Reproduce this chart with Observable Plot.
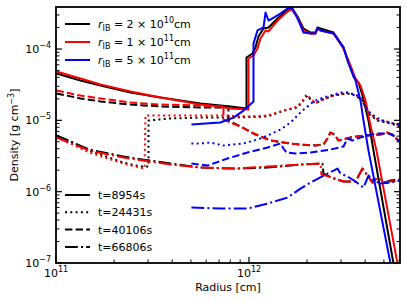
<!DOCTYPE html>
<html><head><meta charset="utf-8">
<script src="https://cdn.jsdelivr.net/npm/d3@7"></script>
<script src="https://cdn.jsdelivr.net/npm/@observablehq/plot@0.6"></script>
<style>
html,body{margin:0;padding:0;background:#fff;}
#chart{width:407px;height:301px;}
svg{font-family:"DejaVu Sans",sans-serif;}
</style></head><body><div id="chart"></div>
<script>
// radius in units of 1e11 cm, density in g cm^-3
const rIBLabels = [["2","10"],["1","11"],["5","11"]];
const timeLabels = ["t=8954s","t=24431s","t=40106s","t=66806s"];
const xTickValues = [1e11, 1e12];
const yTickValues = [1e-7, 1e-6, 1e-5, 1e-4];

const blackT1 = [[1.00,4.60e-5],[1.331,3.67e-5],[1.690,3.13e-5],[2.417,2.49e-5],[3.459,2.12e-5],[5.574,1.75e-5],[7.97,1.59e-5],[9.65,1.49e-5],[9.65,7.73e-5],[10.36,8.79e-5],[10.74,1.07e-4],[11.13,1.52e-4],[11.82,1.97e-4],[12.55,2.04e-4],[13.97,2.72e-4],[15.74,3.64e-4],[16.51,3.88e-4],[17.73,2.90e-4],[19.05,1.97e-4],[20.71,1.73e-4],[21.98,1.73e-4],[22.51,2.04e-4],[23.33,1.97e-4],[27.24,1.73e-4],[30.69,1.07e-4],[32.58,6.58e-5],[34.59,4.18e-5],[36.72,3.44e-5],[38.51,2.26e-5],[41.36,1.01e-5],[43.91,3.83e-6],[55.74,1.0e-7],[58.46,5.3e-8]];
const redT1 = [[1.00,4.91e-5],[1.331,3.92e-5],[1.690,3.23e-5],[2.417,2.58e-5],[3.459,2.12e-5],[5.574,1.69e-5],[7.07,1.59e-5],[7.97,1.49e-5],[9.88,1.44e-5],[9.88,7.48e-5],[10.49,8.24e-5],[11.00,1.03e-4],[11.40,1.43e-4],[12.11,1.85e-4],[12.55,1.79e-4],[13.97,2.55e-4],[15.74,3.41e-4],[16.51,3.64e-4],[17.73,2.81e-4],[19.05,1.85e-4],[20.71,1.68e-4],[21.98,1.68e-4],[22.51,1.97e-4],[23.33,1.85e-4],[27.24,1.68e-4],[30.69,1.03e-4],[33.37,5.97e-5],[35.43,3.92e-5],[37.59,3.13e-5],[39.90,1.93e-5],[42.36,8.59e-6],[45.5,3.83e-6],[58.46,1.0e-7],[61.2,5.3e-8]];
const blueT1 = [[5.0,8.87e-6],[5.916,9.16e-6],[7.07,9.46e-6],[8.26,1.11e-5],[9.31,1.39e-5],[10.49,1.87e-5],[10.49,1.21e-4],[11.00,1.85e-4],[11.82,2.04e-4],[12.11,3.30e-4],[12.55,2.55e-4],[13.97,3.00e-4],[15.74,3.76e-4],[16.70,3.76e-4],[17.95,2.55e-4],[19.05,1.73e-4],[20.71,1.68e-4],[21.98,1.68e-4],[22.51,1.97e-4],[23.33,1.85e-4],[27.24,1.68e-4],[30.69,1.07e-4],[32.58,6.37e-5],[35.43,3.67e-5],[37.59,1.93e-5],[38.97,1.01e-5],[41.36,3.83e-6],[53.78,1.0e-7],[56.4,5.3e-8]];

const blackT2 = [[1.00,6.22e-6],[1.18,5.13e-6],[1.482,3.83e-6],[2.223,2.60e-6],[2.724,2.29e-6],[2.997,2.29e-6],[2.997,1.01e-5],[3.897,1.08e-5],[5.574,1.11e-5],[7.97,1.11e-5],[12.40,1.15e-5],[15.01,1.39e-5],[17.73,1.54e-5],[19.05,1.93e-5],[19.98,2.26e-5],[20.71,1.99e-5],[21.98,1.75e-5],[23.33,1.93e-5],[27.24,2.26e-5],[32.19,2.42e-5],[35.43,2.26e-5],[38.51,1.93e-5],[41.36,1.27e-5],[46.05,1.01e-5],[53.78,9.16e-6],[60.6,8.32e-6]];
const redT2 = [[1.00,5.83e-6],[1.18,4.81e-6],[1.482,3.59e-6],[2.223,2.52e-6],[2.857,2.14e-6],[2.891,1.19e-5],[3.897,1.19e-5],[5.574,1.19e-5],[7.07,1.19e-5],[10.12,1.15e-5],[12.40,1.19e-5],[15.01,1.39e-5],[17.73,1.59e-5],[19.05,1.99e-5],[19.74,2.34e-5],[20.71,2.06e-5],[21.98,1.75e-5],[23.33,1.93e-5],[27.24,2.26e-5],[32.19,2.49e-5],[35.43,2.34e-5],[38.51,1.99e-5],[41.36,1.31e-5],[46.05,1.04e-5],[53.78,9.46e-6],[60.6,8.59e-6]];
const blueT2 = [[5.0,4.81e-6],[5.574,4.81e-6],[6.28,4.97e-6],[7.33,4.51e-6],[9.31,4.81e-6],[11.40,5.65e-6],[12.40,6.22e-6],[14.48,7.55e-6],[16.31,9.46e-6],[18.37,1.31e-5],[21.46,1.87e-5],[24.18,2.12e-5],[29.62,2.49e-5],[32.19,2.49e-5],[36.28,2.26e-5],[38.97,1.75e-5],[42.36,1.27e-5],[47.73,1.04e-5],[55.74,9.16e-6],[60.6,8.59e-6]];

const blackT3 = [[1.00,2.42e-5],[1.331,2.06e-5],[1.690,1.87e-5],[2.417,1.69e-5],[3.459,1.59e-5],[5.574,1.54e-5],[7.78,1.54e-5],[7.78,1.01e-5],[8.98,8.32e-6],[10.49,6.64e-6],[12.85,5.30e-6],[16.31,4.81e-6],[18.37,4.66e-6],[21.98,4.51e-6],[24.18,4.66e-6],[25.36,5.65e-6],[26.28,6.85e-6],[27.57,6.43e-6],[28.92,5.30e-6],[33.37,5.83e-6],[38.97,6.22e-6],[47.73,6.43e-6],[51.88,6.85e-6],[54.4,6.43e-6],[59.16,5.30e-6],[62.0,4.81e-6]];
const redT3 = [[1.00,2.66e-5],[1.331,2.26e-5],[1.690,2.06e-5],[2.417,1.81e-5],[3.459,1.69e-5],[5.574,1.64e-5],[7.33,1.59e-5],[7.33,1.04e-5],[8.98,8.32e-6],[10.49,6.64e-6],[12.85,5.30e-6],[16.31,4.81e-6],[18.37,4.66e-6],[21.98,4.51e-6],[24.18,4.66e-6],[25.36,5.65e-6],[26.28,6.85e-6],[27.57,6.43e-6],[28.92,5.30e-6],[33.37,5.83e-6],[38.97,6.22e-6],[47.73,6.43e-6],[51.88,6.85e-6],[54.4,6.43e-6],[59.16,5.30e-6],[62.0,4.81e-6]];
const blueT3 = [[5.0,2.52e-6],[6.06,2.36e-6],[7.69,2.96e-6],[9.76,3.59e-6],[12.40,4.23e-6],[14.48,4.81e-6],[15.01,4.09e-6],[15.55,3.59e-6],[17.31,3.48e-6],[20.71,3.59e-6],[26.28,3.96e-6],[30.69,4.36e-6],[32.19,5.65e-6],[34.18,5.30e-6],[37.59,5.83e-6],[44.96,6.64e-6],[50.67,6.64e-6],[55.08,6.43e-6],[59.16,5.30e-6],[62.0,4.81e-6]];

const blackT4 = [[1.00,6.22e-6],[1.482,3.96e-6],[2.223,3.16e-6],[2.824,2.86e-6],[3.897,2.52e-6],[5.574,2.21e-6],[8.26,2.14e-6],[12.40,2.21e-6],[18.37,2.44e-6],[23.89,2.52e-6],[24.18,1.82e-6],[27.24,1.55e-6],[30.69,1.41e-6],[35.43,1.41e-6],[38.51,2.14e-6],[40.87,1.71e-6],[43.39,1.36e-6],[46.05,1.60e-6],[49.47,1.36e-6],[53.78,1.46e-6],[60.6,1.50e-6]];
const redT4 = [[1.00,5.83e-6],[1.482,3.83e-6],[2.223,3.06e-6],[2.824,2.77e-6],[3.897,2.44e-6],[5.574,2.21e-6],[8.26,2.14e-6],[12.40,2.29e-6],[18.37,2.44e-6],[23.33,2.52e-6],[23.61,1.77e-6],[27.24,1.60e-6],[30.69,1.41e-6],[35.43,1.41e-6],[38.51,2.14e-6],[40.87,1.71e-6],[43.39,1.36e-6],[46.05,1.60e-6],[49.47,1.36e-6],[53.78,1.41e-6],[60.6,1.46e-6]];
const blueT4 = [[5.0,6.08e-7],[7.07,5.89e-7],[9.76,5.89e-7],[12.40,6.92e-7],[15.74,8.39e-7],[18.37,1.12e-6],[20.71,1.36e-6],[25.36,1.82e-6],[28.58,2.14e-6],[29.62,1.82e-6],[32.19,1.66e-6],[35.43,1.41e-6],[38.97,1.16e-6],[41.36,1.71e-6],[43.91,1.46e-6],[47.73,1.32e-6],[53.78,1.36e-6],[60.6,1.46e-6]];

const seriesTable = [
  [blackT1, blackT2, blackT3, blackT4],
  [redT1, redT2, redT3, redT4],
  [blueT1, blueT2, blueT3, blueT4]
];

const colors = ["#000000", "#ff0000", "#0000ff"];
const dashes = [undefined, "2,3.3", "7.4,3.2", "12.8,3.2,2,3.2"];
const LW = 2;

const marks = [];
seriesTable.forEach((row, ci) => {
  row.forEach((pts, ti) => {
    const data = pts.map(([r, rho]) => ({r: r * 1e11, rho}));
    marks.push(Plot.line(data, {
      x: "r", y: "rho", stroke: colors[ci], strokeWidth: LW,
      strokeDasharray: dashes[ti], strokeLinecap: "butt", strokeLinejoin: "round",
      curve: "linear", clip: true
    }));
  });
});

const chart = Plot.plot({
  width: 407, height: 301,
  marginLeft: 56, marginRight: 7, marginTop: 7, marginBottom: 38,
  x: {type: "log", domain: [1e11, 6.06e12], axis: null},
  y: {type: "log", domain: [1e-7, 3.88e-4], axis: null},
  style: {background: "white", fontFamily: "DejaVu Sans, sans-serif"},
  marks
});
document.getElementById("chart").appendChild(chart);

const X = chart.scale("x"), Y = chart.scale("y");
const svg = d3.select(chart);
const x0 = X.range[0], x1 = X.range[1];
const yB = Y.range[0], yT = Y.range[1];
const g = svg.append("g").attr("text-anchor", "start");

// ticks
const majorLen = 6, minorLen = 3.5;
const yMinor = [];
for (let e = -7; e <= -4; e++) for (let k = 2; k <= 9; k++) { const v = k * Math.pow(10, e); if (v <= 3.88e-4) yMinor.push(v); }
const xMinor = [];
for (let e = 11; e <= 12; e++) for (let k = 2; k <= 9; k++) { const v = k * Math.pow(10, e); if (v <= 6.06e12) xMinor.push(v); }
function tick(xa, ya, xb, yb, w) {
  g.append("line").attr("x1", xa).attr("y1", ya).attr("x2", xb).attr("y2", yb)
    .attr("stroke", "black").attr("stroke-width", w);
}
yTickValues.forEach(v => { const p = Y.apply(v); tick(x0, p, x0 + majorLen, p, 1.2); tick(x1, p, x1 - majorLen, p, 1.2); });
yMinor.forEach(v => { const p = Y.apply(v); tick(x0, p, x0 + minorLen, p, 1); tick(x1, p, x1 - minorLen, p, 1); });
xTickValues.forEach(v => { const p = X.apply(v); tick(p, yB, p, yB - majorLen, 1.2); });
xMinor.forEach(v => { const p = X.apply(v); tick(p, yB, p, yB - minorLen, 1); });

// frame
g.append("rect").attr("x", x0).attr("y", yT).attr("width", x1 - x0).attr("height", yB - yT)
  .attr("fill", "none").attr("stroke", "black").attr("stroke-width", 1.8);

const FS = 11, SFS = 8;
// y tick labels
yTickValues.forEach(v => {
  const e = Math.round(Math.log10(v));
  const t = g.append("text").attr("x", x0 - 5).attr("y", Y.apply(v) + 4)
    .attr("text-anchor", "end").attr("font-size", FS).attr("fill", "black");
  t.append("tspan").text("10");
  t.append("tspan").attr("dy", -5).attr("font-size", SFS).text("\u2212" + Math.abs(e));
});
// x tick labels
xTickValues.forEach(v => {
  const e = Math.round(Math.log10(v));
  const t = g.append("text").attr("x", X.apply(v)).attr("y", yB + 14)
    .attr("text-anchor", "middle").attr("font-size", FS).attr("fill", "black");
  t.append("tspan").text("10");
  t.append("tspan").attr("dy", -5).attr("font-size", SFS).text(String(e));
});
// axis titles
g.append("text").attr("x", (x0 + x1) / 2).attr("y", 291).attr("text-anchor", "middle")
  .attr("font-size", FS).attr("fill", "black").text("Radius [cm]");
const yt = g.append("text").attr("transform", `translate(17.5,${(yT + yB) / 2}) rotate(-90)`)
  .attr("text-anchor", "middle").attr("font-size", FS).attr("fill", "black");
yt.append("tspan").text("Density [g cm");
yt.append("tspan").attr("dy", -4).attr("font-size", SFS).text("\u22123");
yt.append("tspan").attr("dy", 4).text("]");

// legend 1 (colours)
rIBLabels.forEach(([m, e], i) => {
  const y = 24 + i * 18;
  g.append("line").attr("x1", 65).attr("x2", 90).attr("y1", y).attr("y2", y)
    .attr("stroke", colors[i]).attr("stroke-width", LW);
  const t = g.append("text").attr("x", 98).attr("y", y + 4).attr("text-anchor", "start")
    .attr("font-size", FS).attr("fill", "black");
  t.append("tspan").attr("font-style", "italic").text("r");
  t.append("tspan").attr("dy", 2.5).attr("font-size", SFS).text("IB");
  t.append("tspan").attr("dy", -2.5).text(" = " + m + " \u00d7 10");
  t.append("tspan").attr("dy", -5).attr("font-size", SFS).text(e);
  t.append("tspan").attr("dy", 5).text("cm");
});
// legend 2 (times)
timeLabels.forEach((lab, i) => {
  const y = 195 + i * 17.3;
  const l = g.append("line").attr("x1", 65).attr("x2", 90).attr("y1", y).attr("y2", y)
    .attr("stroke", "black").attr("stroke-width", LW).attr("stroke-linecap", "butt");
  if (dashes[i]) l.attr("stroke-dasharray", dashes[i]);
  g.append("text").attr("x", 98).attr("y", y + 4).attr("text-anchor", "start")
    .attr("font-size", FS).attr("fill", "black").text(lab);
});
</script></body></html>
